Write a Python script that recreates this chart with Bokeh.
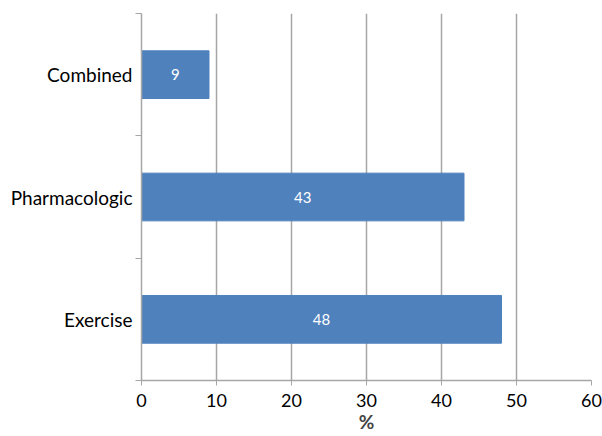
from bokeh.plotting import figure
from bokeh.models import ColumnDataSource, FixedTicker, Range1d
from bokeh.embed import file_html
from bokeh.resources import INLINE

# Share of participants by intervention type (%)
categories = ["Exercise", "Pharmacologic", "Combined"]
values = [48, 43, 9]
x_ticks = [0, 10, 20, 30, 40, 50, 60]

FONT = "Lato"
BAR_COLOR = "#4F81BD"
GRID_COLOR = "#a6a6a6"

# each category sits in the middle of its band; band edges carry the ticks
centers = [i + 0.5 for i in range(len(categories))]
edges = list(range(len(categories) + 1))

src = ColumnDataSource(dict(
    y=centers,
    value=values,
    label=[str(v) for v in values],
    mid=[v / 2 for v in values],
))

p = figure(
    width=602, height=436,
    x_range=Range1d(0, 60), y_range=Range1d(0, len(categories)),
    output_backend="svg", toolbar_location=None,
    min_border_left=141, min_border_right=11,
    min_border_top=13, min_border_bottom=56,
)
p.outline_line_color = None
p.background_fill_color = "white"
p.border_fill_color = "white"

p.hbar(y="y", right="value", left=0, height=0.39, source=src,
       fill_color=BAR_COLOR, line_color=BAR_COLOR)
p.text(x="mid", y="y", text="label", source=src,
       text_color="white", text_align="center", text_baseline="middle",
       text_font_size="15px", text_font={"value": FONT})

# x axis
p.xaxis.ticker = FixedTicker(ticks=x_ticks)
p.xaxis.axis_label = "%"
p.xaxis.axis_label_text_font = FONT
p.xaxis.axis_label_text_font_style = "bold"
p.xaxis.axis_label_text_font_size = "19px"
p.xaxis.axis_label_standoff = 0
p.xaxis.major_label_text_font = FONT
p.xaxis.major_label_text_font_size = "18px"
p.xaxis.major_label_text_color = "black"
p.xaxis.major_label_standoff = 8
p.xaxis.axis_line_color = GRID_COLOR
p.xaxis.axis_line_width = 1.5
p.xaxis.major_tick_line_color = GRID_COLOR
p.xaxis.major_tick_out = 5
p.xaxis.major_tick_in = 0
p.xaxis.minor_tick_line_color = None

# y axis: labels at band centres, ticks at band edges
p.yaxis.ticker = FixedTicker(ticks=centers, minor_ticks=edges)
p.yaxis.major_label_overrides = {c: name for c, name in zip(centers, categories)}
p.yaxis.major_label_text_font = FONT
p.yaxis.major_label_text_font_size = "19px"
p.yaxis.major_label_text_color = "black"
p.yaxis.major_label_standoff = 3
p.yaxis.major_tick_line_color = None
p.yaxis.major_tick_out = 0
p.yaxis.major_tick_in = 0
p.yaxis.minor_tick_line_color = GRID_COLOR
p.yaxis.minor_tick_out = 6
p.yaxis.minor_tick_in = 0
p.yaxis.axis_line_color = GRID_COLOR
p.yaxis.axis_line_width = 1.5

p.xgrid.ticker = FixedTicker(ticks=x_ticks)
p.xgrid.grid_line_color = GRID_COLOR
p.xgrid.grid_line_width = 1.5
p.ygrid.grid_line_color = None

open("out.html", "w").write(file_html(p, INLINE))
